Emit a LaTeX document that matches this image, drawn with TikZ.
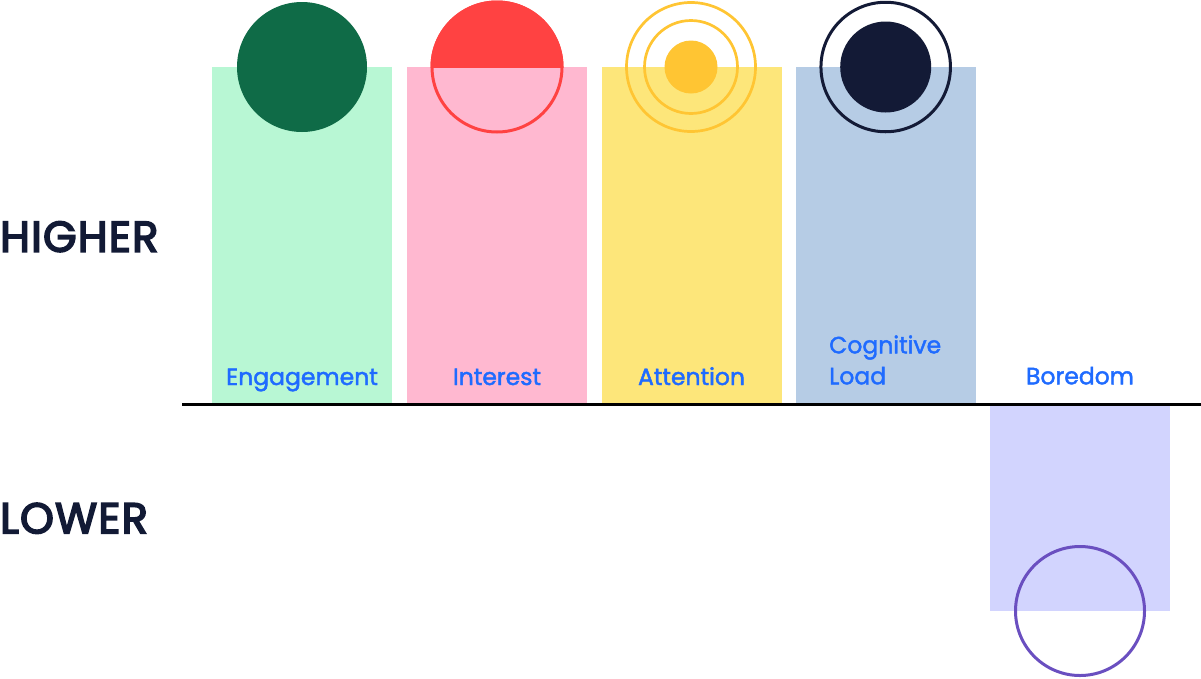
\documentclass[tikz,border=0pt]{standalone}
\usepackage{fontspec}
\setmainfont{Poppins}
\newfontfamily\labelfont{Poppins}[FakeBold=1.8]
\newfontfamily\levelfont{Poppins}[FakeBold=4,LetterSpace=3]
\definecolor{engbar}{HTML}{B8F7D4}
\definecolor{engdot}{HTML}{0F6B47}
\definecolor{intbar}{HTML}{FFB8D0}
\definecolor{intdot}{HTML}{FF4242}
\definecolor{attbar}{HTML}{FDE67A}
\definecolor{attdot}{HTML}{FFC533}
\definecolor{cogbar}{HTML}{B6CCE5}
\definecolor{cogdot}{HTML}{131A36}
\definecolor{borbar}{HTML}{D2D4FE}
\definecolor{bordot}{HTML}{6A4FC0}
\definecolor{labelblue}{HTML}{1F6BFF}
\definecolor{navy}{HTML}{121A35}
\begin{document}
\begin{tikzpicture}[x=1pt,y=-1pt,
  bar/.style={rectangle, minimum width=180pt, inner sep=0pt, outer sep=0pt, draw=none},
  dot/.style={circle, inner sep=0pt, outer sep=0pt},
  lbl/.style={text=labelblue, font=\labelfont\fontsize{23.5}{31}\selectfont, inner sep=0pt, anchor=base, align=left},
  level/.style={text=navy, font=\levelfont\fontsize{43}{43}\selectfont, inner sep=0pt, anchor=base west}]
\useasboundingbox (0,0) rectangle (1201,678);
% bars
\node[bar, fill=engbar, minimum height=336pt] (engbar) at (302,235) {};
\node[bar, fill=intbar, minimum height=336pt] (intbar) at (497,235) {};
\node[bar, fill=attbar, minimum height=336pt] (attbar) at (691.5,235) {};
\node[bar, fill=cogbar, minimum height=336pt] (cogbar) at (886,235) {};
\node[bar, fill=borbar, minimum height=206pt] (borbar) at (1080,508) {};
% axis
\coordinate (axL) at (182,404.5);
\coordinate (axR) at (1201,404.5);
\draw[line width=3.5pt, black] (axL) -- (axR);
% engagement dot
\node[dot, fill=engdot, minimum size=130pt] (engdot) at (302,67) {};
% interest dot
\begin{scope}
  \clip (420,0) rectangle (575,67);
  \fill[intdot] (497,67) circle[radius=66.5pt];
\end{scope}
\node[dot, draw=intdot, line width=3pt, minimum size=130pt] (intdot) at (497,67) {};
% attention rings
\node[dot, draw=attdot, line width=2.7pt, minimum size=129pt] (attouter) at (691,67) {};
\node[dot, draw=attdot, line width=2.7pt, minimum size=93pt] (attmid) at (691,67) {};
\node[dot, fill=attdot, minimum size=53pt] (attcore) at (691,67) {};
% cognitive load
\node[dot, draw=cogdot, line width=3pt, minimum size=129.5pt] (cogring) at (885.7,67) {};
\node[dot, fill=cogdot, minimum size=91pt] (cogcore) at (885.7,67) {};
% boredom
\node[dot, draw=bordot, line width=3pt, minimum size=129pt] (bordot) at (1080,611) {};
% labels
\node[lbl] (englbl) at (302,385) {Engagement};
\node[lbl] (intlbl) at (497,385) {Interest};
\node[lbl] (attlbl) at (691.5,385) {Attention};
\node[lbl, anchor=base west] (coglbl) at (829,384.3) {Cognitive\\Load};
\node[lbl] (borlbl) at (1080,384.3) {Boredom};
% levels
\node[level] (higher) at (0,251.7) {HIGHER};
\node[level] (lower) at (0,533.3) {LOWER};
\end{tikzpicture}
\end{document}
